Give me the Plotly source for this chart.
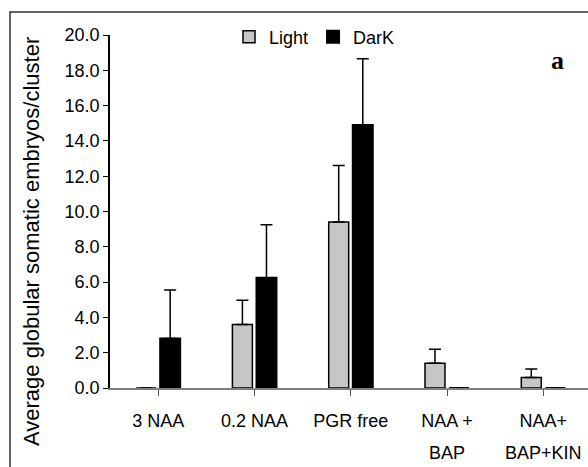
import plotly.graph_objects as go

categories = ["3 NAA", "0.2 NAA", "PGR free", "NAA +", "NAA+"]
second_line = ["", "", "", "BAP", "BAP+KIN"]
light_vals = [0.0, 3.6, 9.4, 1.4, 0.6]
light_err = [0.0, 1.37, 3.2, 0.8, 0.48]
dark_vals = [2.8, 6.25, 14.9, 0.0, 0.0]
dark_err = [2.75, 3.0, 3.75, 0.0, 0.0]
series_names = ["Light", "DarK"]
y_title = "Average globular somatic embryos/cluster"
panel_label = "a"

FONT = "Liberation Sans"
x_idx = list(range(len(categories)))

fig = go.Figure()
fig.add_bar(
    x=x_idx, y=light_vals, name=series_names[0],
    marker=dict(color="#c6c6c6", line=dict(color="black", width=1.5)),
    error_y=dict(type="data", array=light_err, symmetric=False, arrayminus=[0]*5,
                 color="black", thickness=1.5, width=6, visible=True),
)
fig.add_bar(
    x=x_idx, y=dark_vals, name=series_names[1],
    marker=dict(color="black", line=dict(color="black", width=2)),
    error_y=dict(type="data", array=dark_err, symmetric=False, arrayminus=[0]*5,
                 color="black", thickness=1.5, width=6, visible=True),
)

W, H = 588, 467
L, R, T, B = 110, 0, 35, 79
pw, ph = W - L - R, H - T - B

fig.update_layout(
    width=W, height=H,
    margin=dict(l=L, r=R, t=T, b=B, pad=0),
    paper_bgcolor="white", plot_bgcolor="white",
    barmode="group", bargap=0.5, bargroupgap=0.17,
    font=dict(family=FONT, size=17, color="black"),
    showlegend=True,
    legend=dict(orientation="h", x=(229 - L) / pw, y=(H - B - 37) / ph,
                xanchor="left", yanchor="middle", bgcolor="rgba(0,0,0,0)",
                font=dict(family=FONT, size=18, color="black"),
                itemwidth=30, tracegroupgap=0, traceorder="normal"),
    xaxis=dict(
        tickmode="array", tickvals=x_idx, ticktext=categories,
        range=[-0.5, 4.464], showgrid=False, zeroline=False,
        showline=True, linecolor="#808080", linewidth=1.5,
        ticks="outside", ticklen=6, tickcolor="#555555", tickwidth=1,
        tickson="boundaries", ticklabelstandoff=10,
        tickfont=dict(family=FONT, size=18, color="black"),
    ),
    yaxis=dict(
        range=[0, 20], dtick=2, tickformat=".1f", showgrid=False,
        zeroline=False, showline=True, linecolor="black", linewidth=1.5,
        ticks="outside", ticklen=5, tickcolor="black", tickwidth=1,
        tickfont=dict(family=FONT, size=18, color="black"),
    ),
)

# outer frame (top and left lines of the picture border)
fig.add_shape(type="rect", xref="paper", yref="paper",
              x0=(10 - L) / pw, x1=1.2, y0=-0.4, y1=(H - B - 12) / ph,
              line=dict(color="#333333", width=1.5), layer="above")

# y axis title
fig.add_annotation(text=y_title, xref="paper", yref="paper",
                   x=(31 - L) / pw, y=(H - B - 242) / ph, textangle=-90,
                   showarrow=False, xanchor="center", yanchor="middle",
                   font=dict(family=FONT, size=22, color="black"))

# second line of two-line category labels
for i, t in enumerate(second_line):
    if t:
        fig.add_annotation(text=t, x=i, xref="x", yref="paper",
                           y=-(453 - (H - B)) / ph, showarrow=False,
                           xanchor="center", yanchor="middle",
                           font=dict(family=FONT, size=18, color="black"))

# panel label
fig.add_annotation(text="<b>" + panel_label + "</b>", xref="paper", yref="paper",
                   x=(557 - L) / pw, y=(H - B - 60) / ph, showarrow=False,
                   xanchor="center", yanchor="middle",
                   font=dict(family="Liberation Serif", size=26, color="black"))

fig.write_html("out.html")
